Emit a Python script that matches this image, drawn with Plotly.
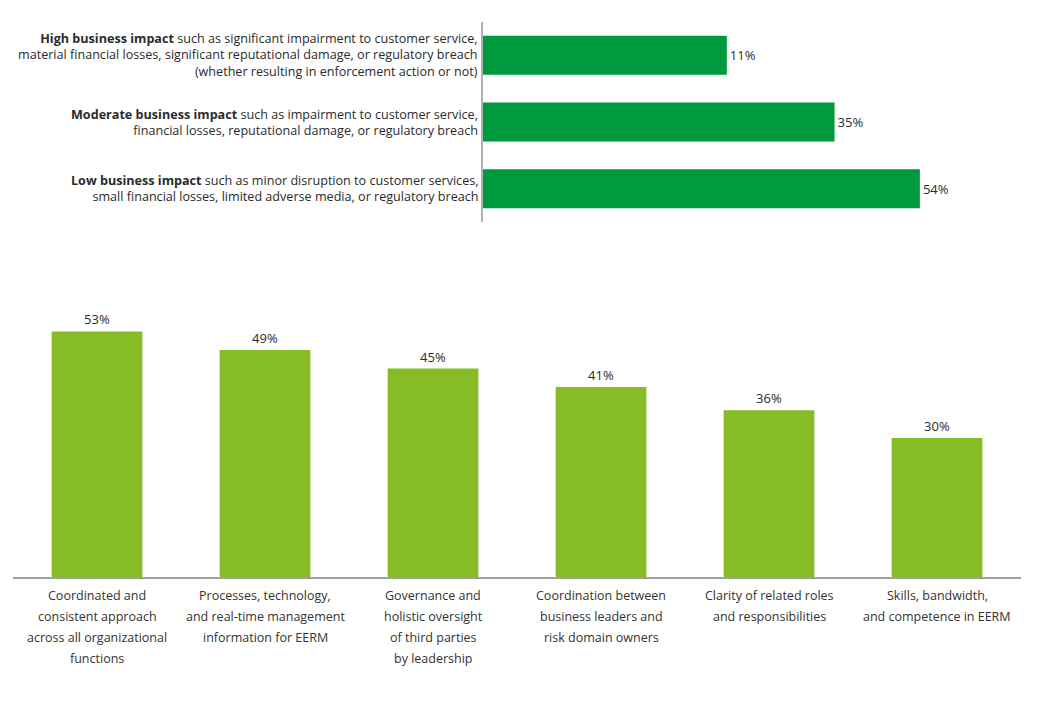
import plotly.graph_objects as go

# ---------------- data ----------------
impact_bold = ["High business impact", "Moderate business impact", "Low business impact"]
impact_lines = [
    ["such as significant impairment to customer service,",
     "material financial losses, significant reputational damage, or regulatory breach",
     "(whether resulting in enforcement action or not)"],
    ["such as impairment to customer service,",
     "financial losses, reputational damage, or regulatory breach"],
    ["such as minor disruption to customer services,",
     "small financial losses, limited adverse media, or regulatory breach"],
]
impact_values = [11, 35, 54]

driver_labels = [
    ["Coordinated and", "consistent approach", "across all organizational", "functions"],
    ["Processes, technology,", "and real-time management", "information for EERM"],
    ["Governance and", "holistic oversight", "of third parties", "by leadership"],
    ["Coordination between", "business leaders and", "risk domain owners"],
    ["Clarity of related roles", "and responsibilities"],
    ["Skills, bandwidth,", "and competence in EERM"],
]
driver_values = [53, 49, 45, 41, 36, 30]

# ---------------- style ----------------
W, H = 1061, 706
FONT = "Open Sans"
TOP_GREEN = "#009A3E"
BOT_GREEN = "#86BC25"
TEXT = "#2b2b2b"
X_MIN, X_MAX = -43.3, 60   # truncated value axis of the top chart

impact_cats = [f"c{i}" for i in range(len(impact_values))]
driver_cats = [f"d{i}" for i in range(len(driver_values))]

fig = go.Figure()

fig.add_trace(go.Bar(
    y=impact_cats, x=[v - X_MIN for v in impact_values], base=X_MIN,
    orientation="h", width=0.585,
    marker=dict(color=TOP_GREEN, line=dict(width=0)),
    text=[f"{v}%" for v in impact_values], textposition="outside",
    textfont=dict(family=FONT, size=13, color=TEXT), cliponaxis=False,
    xaxis="x", yaxis="y", showlegend=False, hoverinfo="skip",
))

fig.add_trace(go.Bar(
    x=driver_cats, y=driver_values, width=0.54,
    marker=dict(color=BOT_GREEN, line=dict(width=0)),
    text=[f"{v}%" for v in driver_values], textposition="outside",
    textfont=dict(family=FONT, size=13, color=TEXT), cliponaxis=False,
    xaxis="x2", yaxis="y2", showlegend=False, hoverinfo="skip",
))

annotations = []
# top chart labels: right aligned next to the axis
for cat, bold, lines in zip(impact_cats, impact_bold, impact_lines):
    txt = "<br>".join([f"<b>{bold}</b> {lines[0]}"] + lines[1:])
    annotations.append(dict(
        x=480 / W, xref="paper", y=cat, yref="y",
        xanchor="right", yanchor="middle", align="right",
        text=txt, showarrow=False,
        font=dict(family=FONT, size=12.6, color=TEXT),
    ))

# bottom chart category labels
BASE_Y = 1 - 577 / H
for cat, lines in zip(driver_cats, driver_labels):
    for i, ln in enumerate(lines):
        annotations.append(dict(
            x=cat, xref="x2", y=BASE_Y, yref="paper",
            xanchor="center", yanchor="middle",
            yshift=-(18 + 21 * i),
            text=ln, showarrow=False,
            font=dict(family=FONT, size=12.5, color="#333333"),
        ))

fig.update_layout(
    width=W, height=H,
    margin=dict(l=0, r=0, t=0, b=0),
    paper_bgcolor="white", plot_bgcolor="white",
    font=dict(family=FONT, color=TEXT),
    xaxis=dict(domain=[483 / W, (677.3 + 60 * 4.492) / W], range=[X_MIN, X_MAX],
               showgrid=False, zeroline=False, showticklabels=False, showline=False,
               anchor="y", fixedrange=True),
    yaxis=dict(domain=[1 - 222 / H, 1 - 22 / H], categoryorder="array",
               categoryarray=impact_cats[::-1], showgrid=False, zeroline=False,
               showticklabels=False, showline=True, linecolor="#b0b0b0", linewidth=1.5,
               anchor="x"),
    xaxis2=dict(domain=[13 / W, 1021 / W], showgrid=False, zeroline=False,
                showticklabels=False, showline=True, linecolor="#a0a0a0", linewidth=1.5,
                anchor="y2", ticks=""),
    yaxis2=dict(domain=[BASE_Y, BASE_Y + 278 / H], range=[0, 60], showgrid=False,
                zeroline=False, showticklabels=False, showline=False, anchor="x2"),
    annotations=annotations,
)

fig.write_html("out.html", config={"displayModeBar": False},
               post_script="document.body.style.margin='0px';document.body.style.overflow='hidden';")
